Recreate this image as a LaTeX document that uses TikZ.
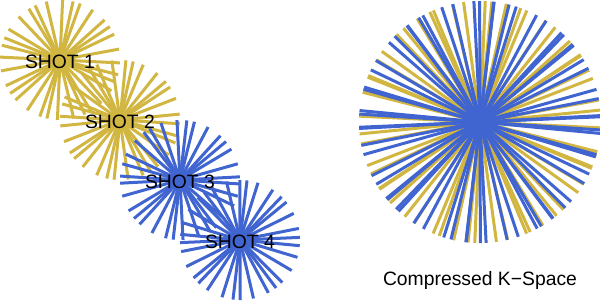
\documentclass[tikz,border=0pt]{standalone}
\usepackage{fontspec}
\setmainfont{Liberation Sans}
\usepackage{tikz}
\usetikzlibrary{positioning}
\definecolor{shotgold}{RGB}{210,182,66}
\definecolor{shotblue}{RGB}{64,100,208}

\begin{document}
\begin{tikzpicture}[x=0.03cm, y=-0.03cm, font=\fontsize{16.5}{18}\selectfont]
  \def\nspk{16}
  \def\rshot{60}
  \def\rall{121}
  \tikzset{spoke/.style={line width=0.09cm}}
  \useasboundingbox (0,0) rectangle (600,300);
  % the four shots, one star each
  \foreach \k/\col in {0/shotgold,1/shotgold,2/shotblue,3/shotblue} {
    \coordinate (c\k) at (60+60*\k, 60+60*\k);
    \foreach \i in {1,...,\nspk} {
      \pgfmathsetmacro{\ang}{(4*\i+\k)*180/64 + 3*sin(97*\i+53*\k)}
      \draw[spoke, \col, shift={(c\k)}] (\ang:\rshot) -- (\ang+180:\rshot);
    }
  }
  % all shots together
  \coordinate (kc) at (480,122);
  \foreach \k/\col in {0/shotgold,1/shotgold,2/shotblue,3/shotblue} {
    \foreach \i in {1,...,\nspk} {
      \pgfmathsetmacro{\ang}{(4*\i+\k)*180/64 + 3*sin(97*\i+53*\k)}
      \draw[spoke, \col, shift={(kc)}] (\ang:\rall) -- (\ang+180:\rall);
    }
  }
  \node (shot1) at ([yshift=-0.06cm]c0) {SHOT 1};
  \node (shot2) at ([yshift=-0.06cm]c1) {SHOT 2};
  \node (shot3) at ([yshift=-0.06cm]c2) {SHOT 3};
  \node (shot4) at ([yshift=-0.06cm]c3) {SHOT 4};
  \node (kspace) at (480,280) {Compressed K−Space};
\end{tikzpicture}
\end{document}
